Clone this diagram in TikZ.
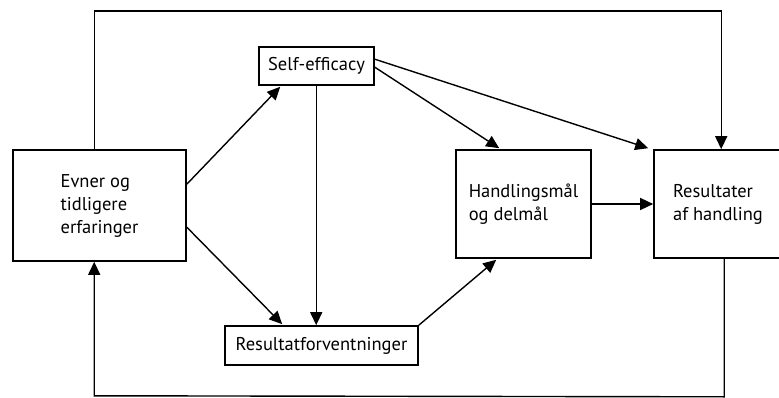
\documentclass[tikz,border=0pt]{standalone}
\usepackage{fontspec}
\setmainfont{PT Sans}
\usetikzlibrary{arrows.meta,calc}
\begin{document}
\begin{tikzpicture}[x=1pt,y=-1pt,
  box/.style={draw,line width=1.6pt,rectangle,inner sep=0pt,font=\fontsize{18.5}{23}\selectfont},
  conn/.style={line width=1.4pt,-{Triangle[length=13pt,width=12pt]}}]
\useasboundingbox (0,0) rectangle (779,398);
\clip (0,0) rectangle (779,398);
\node[box,minimum width=173pt,minimum height=111pt,align=left] (evner) at (99.5,205.5) {Evner og\\tidligere\\erfaringer};
\node[box,minimum width=115pt,minimum height=38pt] (self) at (316.5,66) {Self-efficacy};
\node[box,minimum width=193pt,minimum height=39pt] (resfv) at (321.5,345.5) {Resultatforventninger};
\node[box,minimum width=135pt,minimum height=108pt,align=left] (handl) at (523.5,204) {Handlingsmål\\og delmål};
\node[box,minimum width=128pt,minimum height=108pt,align=left] (result) at (718,204) {Resultater\\af handling};
\coordinate (topL) at ($(evner.north west)+(82,-138)$);
\coordinate (topR) at ($(result.north west)+(68,-138)$);
\coordinate (botR) at ($(result.south west)+(71,138)$);
\coordinate (botL) at ($(evner.south west)+(82,134)$);
\draw[conn] ($(evner.north east)+(0,35)$) -- ($(self.south west)+(22,1)$);
\draw[conn] ($(evner.north east)+(0,78)$) -- ($(resfv.north west)+(58,-1)$);
\draw[conn] ($(self.south west)+(58,0)$) -- ($(resfv.north west)+(92,0)$);
\draw[conn] ($(self.north east)+(0,21)$) -- ($(handl.north west)+(44,-1)$);
\draw[conn] ($(self.north east)+(0,13)$) -- ($(result.north west)+(-5,-1)$);
\draw[conn] (handl.east) -- (result.west);
\draw[conn] (resfv.north east) -- ($(handl.south west)+(41,1)$);
\draw[conn] ($(evner.north west)+(82,0)$) -- (topL) -- (topR) -- ($(result.north west)+(68,0)$);
\draw[conn] ($(result.south west)+(71,0)$) -- (botR) -- (botL) -- ($(evner.south west)+(82,0)$);
\end{tikzpicture}
\end{document}
